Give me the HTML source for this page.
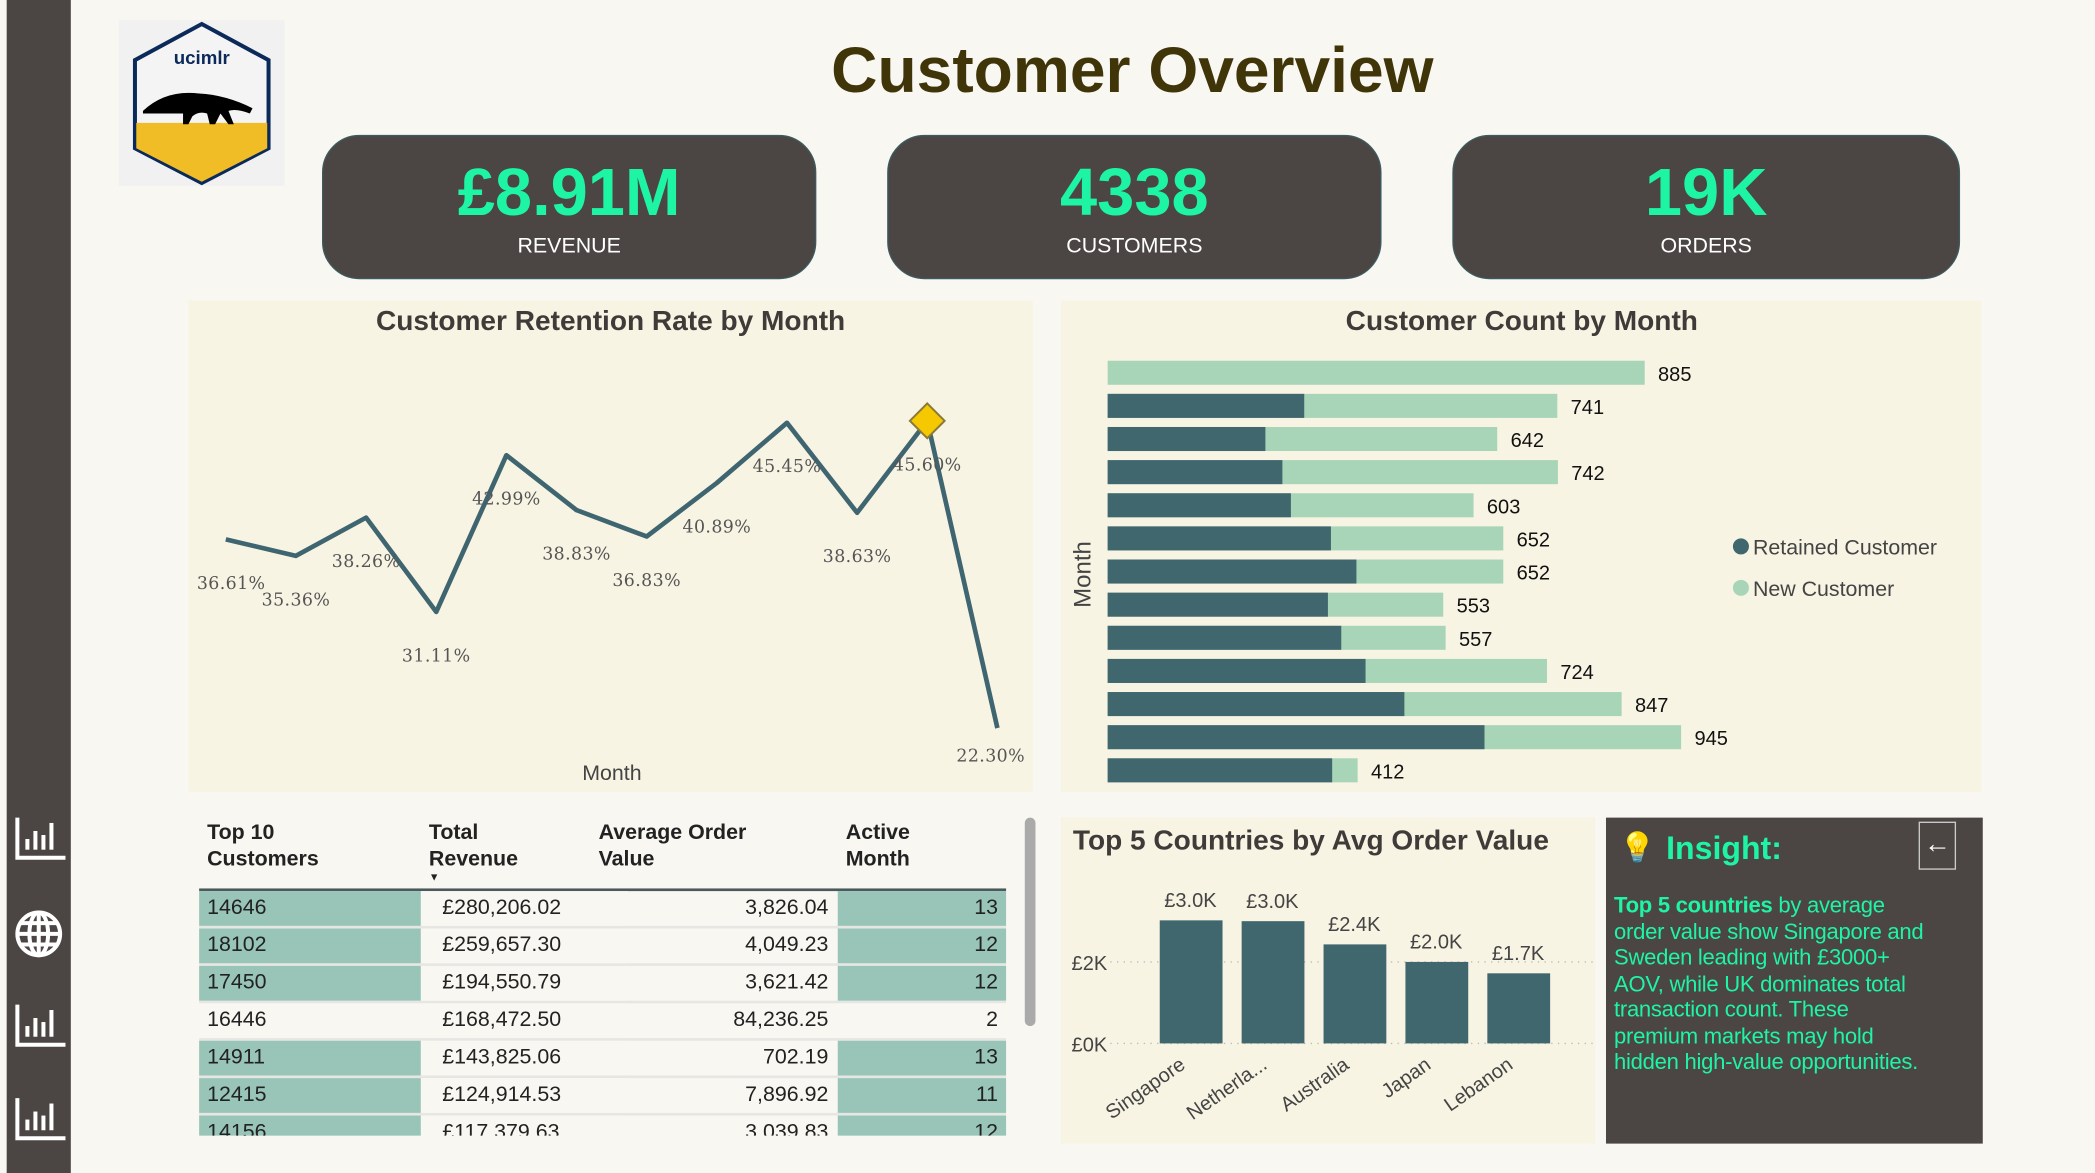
<!DOCTYPE html>
<html><head><meta charset="utf-8"><style>
body{margin:0;width:2095px;height:1173px;overflow:hidden;background:#f8f7f2;font-family:"Liberation Sans",sans-serif}
#stage{position:absolute;left:0;top:0;width:1568px;height:878px;transform:scale(1.33610,1.33599);transform-origin:0 0;background:#f8f7f2}
.abs{position:absolute}
.kpi{position:absolute;top:101px;width:368px;height:106px;background:#4b4643;border-radius:28px;border:1px solid #3d5a5e;text-align:center;color:#fff}
.kpi .v{font-size:50px;font-weight:bold;color:#1ef5a4;margin-top:14px;line-height:56px}
.kpi .l{font-size:16px;margin-top:4px}
.panel{position:absolute;background:#f8f4e4}
.title{position:absolute;width:100%;text-align:center;font-weight:bold;color:#3f3b38;font-size:21px}
</style></head><body>
<div id="stage">
<div class="abs" style="left:5px;top:0;width:48px;height:878px;background:#4b4643"></div>
<svg class="abs" style="left:5px;top:600px" width="48" height="270">
<g fill="none" stroke="#fff" stroke-width="3">
<path d="M8 12 V42 H44"/><path d="M8 152 V182 H44"/><path d="M8 222 V252 H44"/>
<circle cx="24" cy="99" r="16"/><line x1="8" y1="99" x2="40" y2="99"/><line x1="24" y1="83" x2="24" y2="115"/><line x1="10" y1="91" x2="38" y2="91"/><line x1="10" y1="107" x2="38" y2="107"/><ellipse cx="24" cy="99" rx="7" ry="16"/>
</g>
<g fill="#fff"><rect x="14" y="28" width="3" height="8"/><rect x="20" y="22" width="3" height="14"/><rect x="26" y="25" width="3" height="11"/><rect x="32" y="16" width="3" height="20"/>
<rect x="14" y="168" width="3" height="8"/><rect x="20" y="162" width="3" height="14"/><rect x="26" y="165" width="3" height="11"/><rect x="32" y="156" width="3" height="20"/>
<rect x="14" y="238" width="3" height="8"/><rect x="20" y="232" width="3" height="14"/><rect x="26" y="235" width="3" height="11"/><rect x="32" y="226" width="3" height="20"/></g>
</svg>
<div class="abs" style="left:89px;top:15px;width:124px;height:124px;background:#f1f1f1">
<svg width="124" height="124"><polygon points="62,3 112,30 112,96 62,122 12,96 12,30" fill="#f4f4f4" stroke="#0b2a5a" stroke-width="3"/>
<path d="M13 77 H111 V96 L62 121 L13 96Z" fill="#f1bd27"/>
<text x="62" y="33" text-anchor="middle" font-size="14" font-weight="bold" fill="#0b2a5a" font-family="Liberation Sans">ucimlr</text>
<path d="M18 68 Q35 52 60 55 Q80 56 100 66 L98 70 Q88 66 82 68 L86 78 H82 L76 70 L72 78 H68 L66 70 Q60 68 55 72 L52 78 H48 L48 70 Q35 70 18 70Z" fill="#000"/></svg>
</div>
<div class="abs" style="left:530px;top:26px;width:635px;text-align:center;font-size:48px;font-weight:bold;color:#403508">Customer Overview</div>
<div class="kpi" style="left:241px"><div class="v">£8.91M</div><div class="l">REVENUE</div></div>
<div class="kpi" style="left:664px"><div class="v">4338</div><div class="l">CUSTOMERS</div></div>
<div class="kpi" style="left:1087px;width:378px"><div class="v">19K</div><div class="l">ORDERS</div></div>

<div class="panel" style="left:141px;top:225px;width:632px;height:368px">
<div class="title" style="top:4px">Customer Retention Rate by Month</div>
<svg id="lineSvg" width="632" height="368" class="abs" style="left:0;top:0"></svg>
</div>

<div class="panel" style="left:794px;top:225px;width:689px;height:368px">
<div class="title" style="top:4px;width:690px">Customer Count by Month</div>
<svg id="barSvg" width="689" height="368" class="abs" style="left:0;top:0"></svg>
</div>

<div class="abs" style="left:149px;top:610px;width:620px;height:240px;overflow:hidden">
<div class="abs" style="left:6px;top:4px;font-weight:bold;font-size:16px;color:#222;line-height:20px">Top 10<br>Customers</div>
<div class="abs" style="left:172px;top:4px;font-weight:bold;font-size:16px;color:#222;line-height:20px">Total<br>Revenue</div>
<div class="abs" style="left:172px;top:42px;font-size:8px;color:#222">▼</div>
<div class="abs" style="left:299px;top:4px;font-weight:bold;font-size:16px;color:#222;line-height:20px">Average Order<br>Value</div>
<div class="abs" style="left:484px;top:4px;font-weight:bold;font-size:16px;color:#222;line-height:20px">Active<br>Month</div>
<div class="abs" style="left:0;top:55px;width:604px;height:2px;background:#4a5a5c"></div>
<div id="rows" class="abs" style="left:0;top:57px;width:604px"></div>
</div>
<div class="abs" style="left:767px;top:612px;width:8px;height:156px;background:#aaa;border-radius:4px"></div>

<div class="panel" style="left:794px;top:612px;width:400px;height:244px">
<div class="abs" style="left:9px;top:6px;font-weight:bold;color:#3f3b38;font-size:21px">Top 5 Countries by Avg Order Value</div>
<svg id="colSvg" width="400" height="244" class="abs" style="left:0;top:0"></svg>
</div>

<div class="abs" style="left:1202px;top:612px;width:282px;height:244px;background:#4b4643">
<div class="abs" style="left:10px;top:10px;font-size:22px">💡</div>
<div class="abs" style="left:45px;top:10px;font-size:24px;font-weight:bold;color:#1ef5a4">Insight:</div>
<div class="abs" style="left:234px;top:3px;width:26px;height:34px;border:1px solid #ccc;color:#fff;font-size:20px;text-align:center;line-height:32px;font-weight:bold;overflow:hidden">←</div>
<div class="abs" style="left:6px;top:57px;width:276px;font-size:16.5px;line-height:19.5px;color:#1ef5a4;white-space:nowrap;letter-spacing:-0.2px"><b>Top 5 countries</b> by average<br>order value show Singapore and<br>Sweden leading with £3000+<br>AOV, while UK dominates total<br>transaction count. These<br>premium markets may hold<br>hidden high-value opportunities.</div>
</div>
</div>
<script>
const NS='http://www.w3.org/2000/svg';
function mk(p,t,a){const e=document.createElementNS(NS,t);for(const k in a)e.setAttribute(k,a[k]);p.appendChild(e);return e;}
// Retention line
const retMonths=['1','2','3','4','5','6','7','8','9','10','11','12'];
const retValues=[36.61,35.36,38.26,31.11,42.99,38.83,36.83,40.89,45.45,38.63,45.60,22.30];
const ls=document.getElementById('lineSvg');
const lx=i=>28+i*52.5, ly=v=>90+(45.6-v)*9.87;
let d='';retValues.forEach((v,i)=>{d+=(i?'L':'M')+lx(i)+' '+ly(v);});
const pl=mk(ls,'path',{d:d,fill:'none',stroke:'#3f6670','stroke-width':3.5,'stroke-linejoin':'round'});

retValues.forEach((v,i)=>{const last=i===retValues.length-1;
 const t=mk(ls,'text',{x:lx(i)+(i===0?4:(last?-5:0)),y:ly(v)+(last?25:37),'text-anchor':'middle','font-size':13,fill:'#555','font-family':'DejaVu Serif, Liberation Serif, serif','letter-spacing':'0.3'});
 t.textContent=v.toFixed(2)+'%';});
const mx=lx(10),my=ly(45.6);
const dm=mk(ls,'polygon',{points:`${mx},${my-13} ${mx+13},${my} ${mx},${my+13} ${mx-13},${my}`,fill:'#f6c800',stroke:'#8a7a3a','stroke-width':1.5});

const xt=mk(ls,'text',{x:317,y:359,'text-anchor':'middle','font-size':16,fill:'#444'});xt.textContent='Month';

// Customer count bars
const totals=[885,741,642,742,603,652,652,553,557,724,847,945,412];
const retained=[0,324,260,288,302,368,410,363,385,425,489,621,370];
const bs=document.getElementById('barSvg');
const bx=v=>35+v*0.4542, by=i=>45+i*24.8;
totals.forEach((t,i)=>{
 const n=mk(bs,'rect',{x:bx(0),y:by(i),width:bx(t)-bx(0),height:18,fill:'#a8d5b8'});
 
 if(retained[i]>0){const r=mk(bs,'rect',{x:bx(0),y:by(i),width:bx(retained[i])-bx(0),height:18,fill:'#40666e'});
 }
 const l=mk(bs,'text',{x:bx(t)+10,y:by(i)+15,'font-size':15,fill:'#111'});l.textContent=t;
 
});
const yt=mk(bs,'text',{x:0,y:0,transform:'translate(22,205) rotate(-90)','text-anchor':'middle','font-size':18,fill:'#444'});yt.textContent='Month';

[['Retained Customer','#40666e',184],['New Customer','#a8d5b8',215]].forEach(e=>{
 const g=mk(bs,'g',{});
 mk(g,'circle',{cx:509,cy:e[2],r:6,fill:e[1]});const t=mk(g,'text',{x:518,y:e[2]+6,'font-size':16,fill:'#444'});t.textContent=e[0];});
// Countries
const countries=['Singapore','Netherla...','Australia','Japan','Lebanon'];
const aov=[3.02,3.0,2.43,2.0,1.72];
const aovLabels=['£3.0K','£3.0K','£2.4K','£2.0K','£1.7K'];
const cs=document.getElementById('colSvg');
const cy=v=>169-v*30.5, cx=i=>74+i*61.3;
[[0,'£0K'],[2,'£2K']].forEach(g=>{mk(cs,'line',{x1:37,x2:400,y1:cy(g[0]),y2:cy(g[0]),stroke:'#bbb','stroke-dasharray':'1 4'});
 const t=mk(cs,'text',{x:8,y:cy(g[0])+6,'font-size':15,fill:'#444'});t.textContent=g[1];});
aov.forEach((v,i)=>{const r=mk(cs,'rect',{x:cx(i),y:cy(v),width:47,height:cy(0)-cy(v),fill:'#40666e'});
 
 const l=mk(cs,'text',{x:cx(i)+23,y:cy(v)-10,'text-anchor':'middle','font-size':15,fill:'#444'});l.textContent=aovLabels[i];
 const c=mk(cs,'text',{x:0,y:0,transform:`translate(${cx(i)+20},${cy(0)+18}) rotate(-35)`,'text-anchor':'end','font-size':15,fill:'#444'});c.textContent=countries[i];
 });
// Table
const custIds=['14646','18102','17450','16446','14911','12415','14156'];
const revs=['£280,206.02','£259,657.30','£194,550.79','£168,472.50','£143,825.06','£124,914.53','£117,379.63'];
const aovs=['3,826.04','4,049.23','3,621.42','84,236.25','702.19','7,896.92','3,039.83'];
const months=[13,12,12,2,13,11,12];
const rows=document.getElementById('rows');
custIds.forEach((c,i)=>{const hl=months[i]>=10;const bg=hl?'#98c5b8':'#f8f7f2';
 const r=document.createElement('div');
 r.style.cssText='position:absolute;left:0;width:604px;height:26px;top:'+(i*28)+'px;font-size:16px;color:#222;line-height:26px;border-bottom:2px solid #e6e6e2';
 r.innerHTML=`<div style="position:absolute;left:0;width:166px;height:26px;background:${bg};padding-left:6px;box-sizing:border-box">${c}</div>`+
 `<div style="position:absolute;left:166px;width:155px;height:26px;background:#f8f7f2;padding-left:16px;box-sizing:border-box">${revs[i]}</div>`+
 `<div style="position:absolute;left:321px;width:157px;height:26px;text-align:right;padding-right:7px;box-sizing:border-box">${aovs[i]}</div>`+
 `<div style="position:absolute;left:478px;width:126px;height:26px;background:${bg};text-align:right;padding-right:6px;box-sizing:border-box">${months[i]}</div>`;
 rows.appendChild(r);});
</script>
</body></html>
